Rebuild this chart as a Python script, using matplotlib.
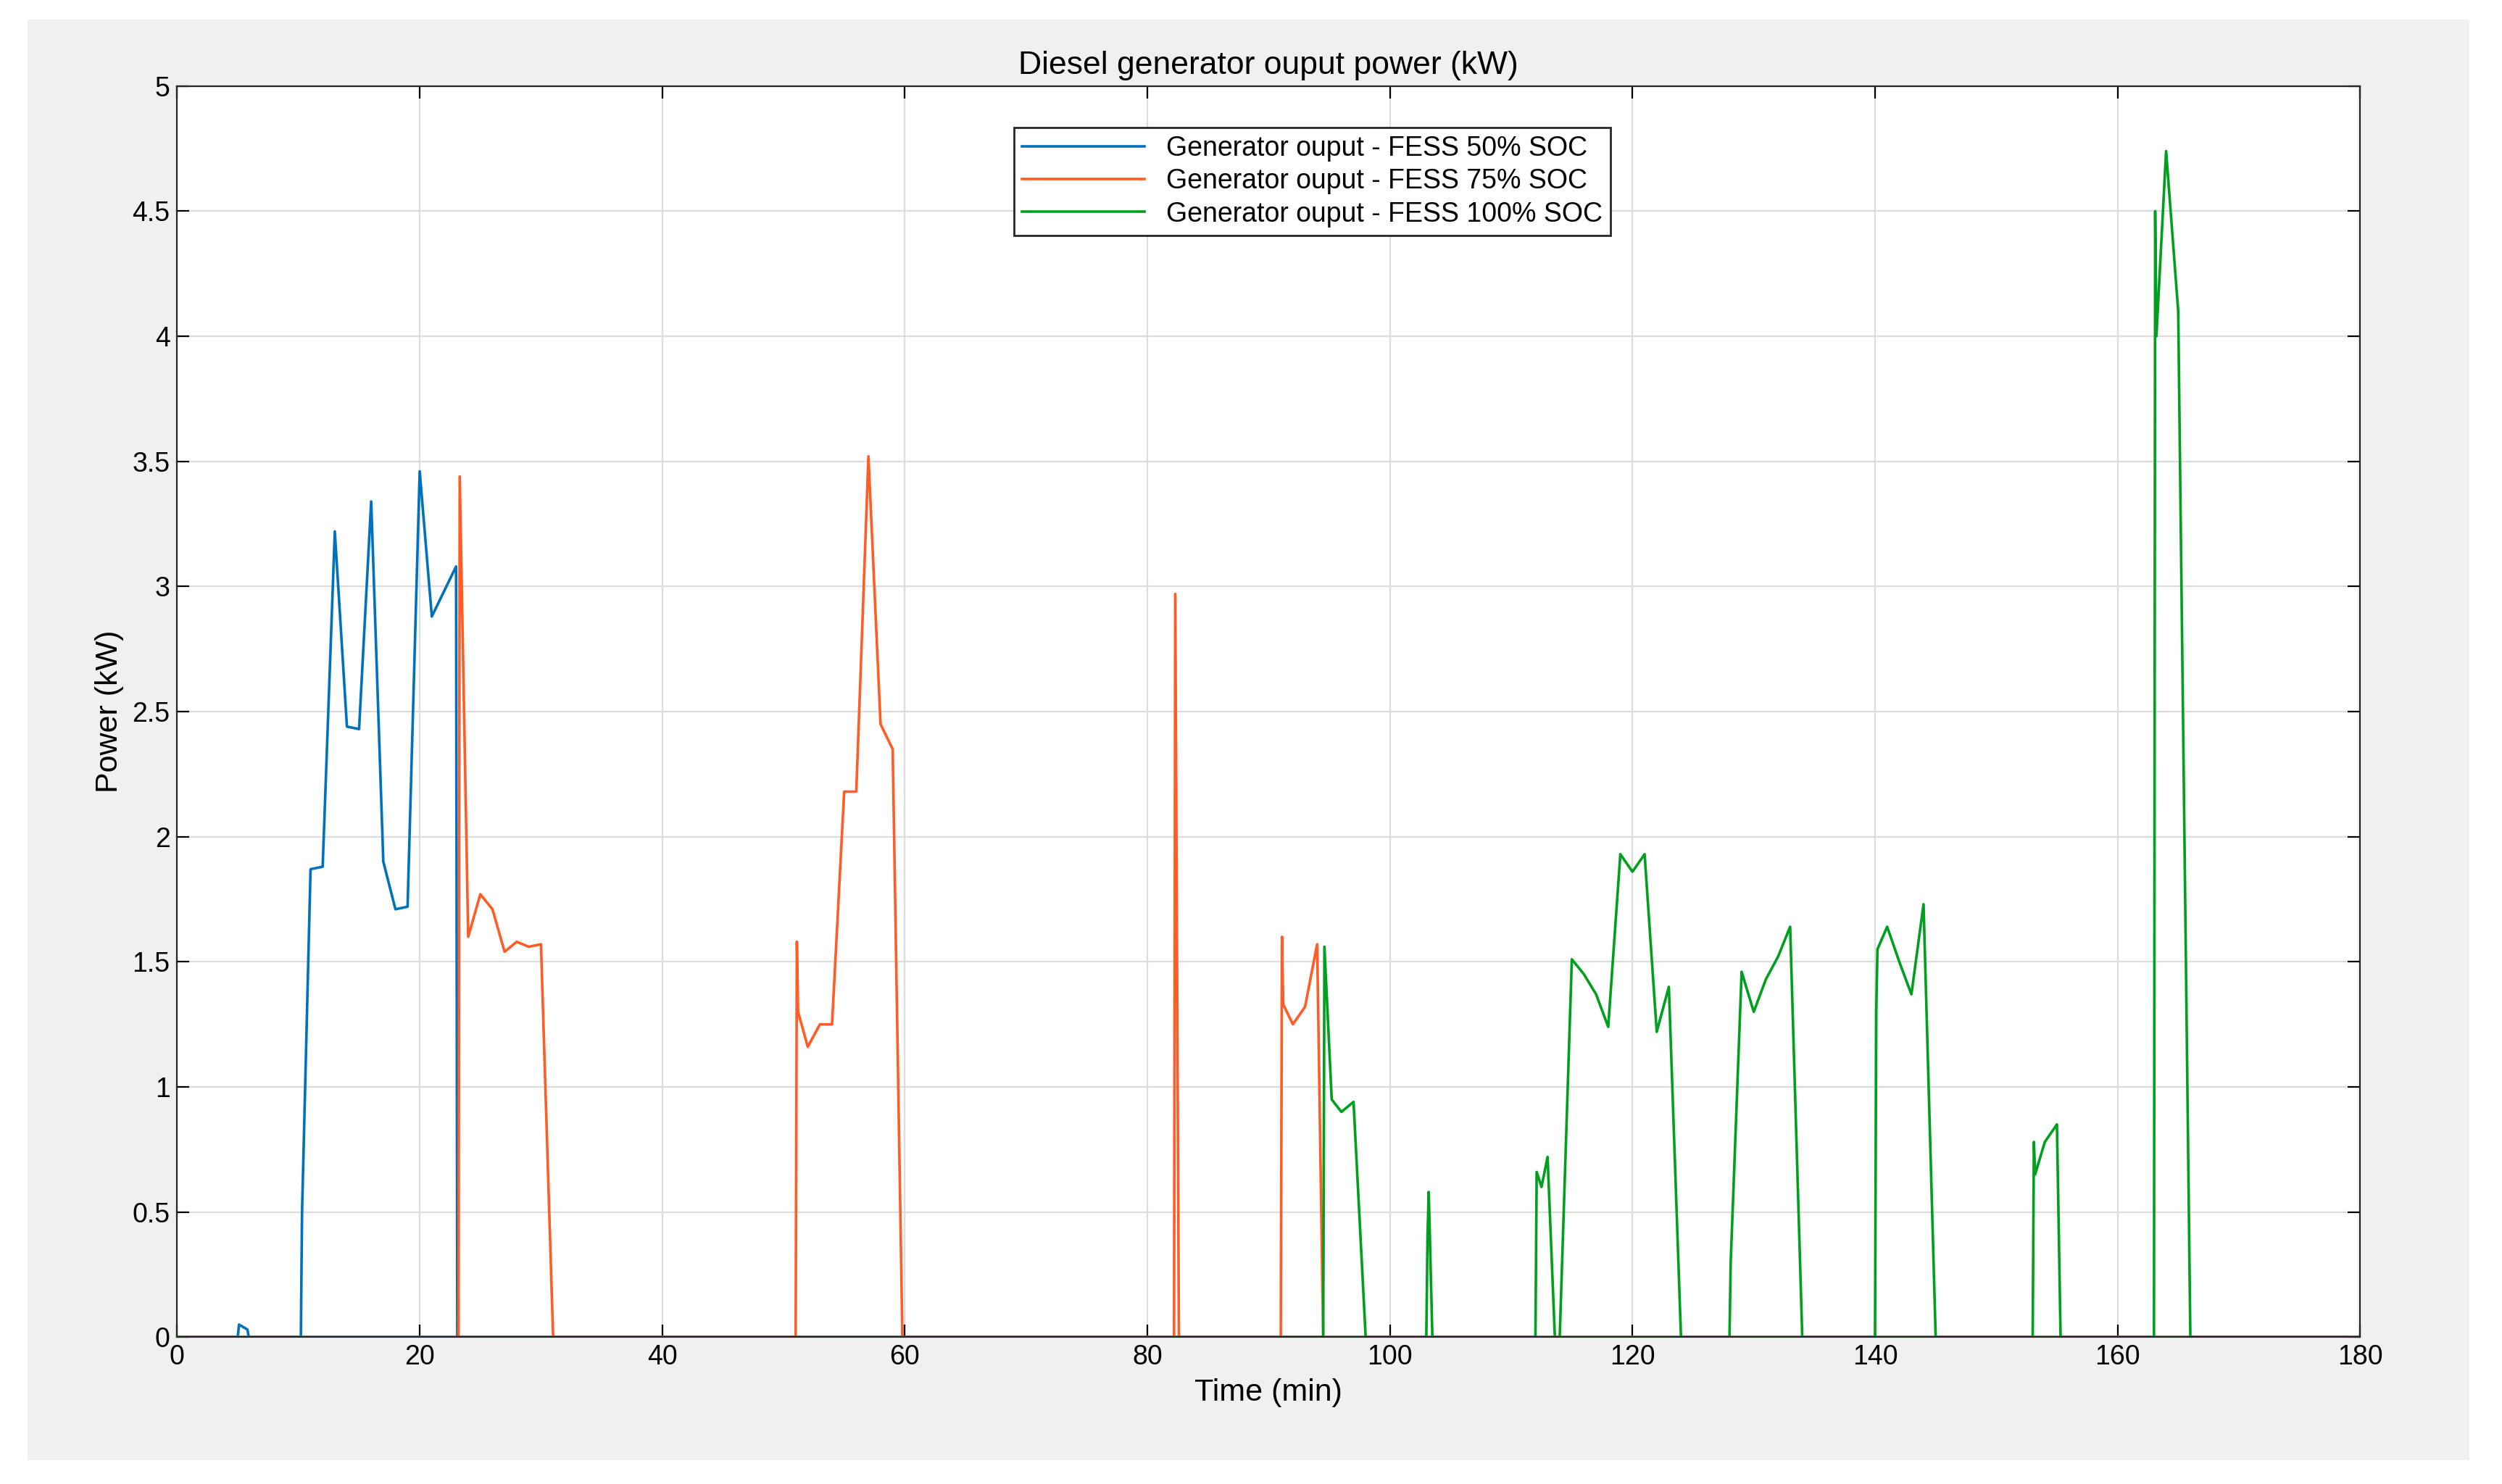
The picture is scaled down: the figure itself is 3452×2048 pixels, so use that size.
import matplotlib
matplotlib.use("Agg")
import matplotlib.pyplot as plt
from matplotlib.patches import Rectangle

blue_t = [0, 5, 5.1, 5.8, 5.9, 10.2, 10.3, 11, 12, 13, 14, 15, 16, 17, 18, 19, 20, 21, 23, 23.1, 180]
blue_p = [0, 0, 0.05, 0.03, 0, 0, 0.5, 1.87, 1.88, 3.22, 2.44, 2.43, 3.34, 1.9, 1.71, 1.72, 3.46, 2.88, 3.08, 0, 0]

orange_t = [0, 23.2, 23.3, 24, 25, 26, 27, 28, 29, 30, 31, 51.0, 51.1, 51.2, 52, 53, 54, 55, 56, 57, 58, 59, 59.8,
            82.2, 82.3, 82.6, 91.0, 91.1, 91.2, 92, 93, 94, 94.5, 180]
orange_p = [0, 0, 3.44, 1.6, 1.77, 1.71, 1.54, 1.58, 1.56, 1.57, 0, 0, 1.58, 1.3, 1.16, 1.25, 1.25, 2.18, 2.18, 3.52, 2.45, 2.35, 0,
            0, 2.97, 0, 0, 1.6, 1.33, 1.25, 1.32, 1.57, 0, 0]

green_t = [0, 94.5, 94.6, 95.2, 96, 97, 98, 103, 103.1, 103.2, 103.5, 112, 112.1, 112.5, 113, 113.6, 114, 115, 116, 117, 118,
           119, 120, 121, 122, 123, 124, 128, 128.1, 129, 130, 131, 132, 133, 134, 140, 140.1, 140.2, 141, 142, 143, 144, 145,
           153, 153.1, 153.2, 154, 155, 155.3, 163, 163.1, 163.2, 164, 165, 166, 180]
green_p = [0, 0, 1.56, 0.95, 0.9, 0.94, 0, 0, 0.4, 0.58, 0, 0, 0.66, 0.6, 0.72, 0, 0, 1.51, 1.45, 1.37, 1.24,
           1.93, 1.86, 1.93, 1.22, 1.4, 0, 0, 0.3, 1.46, 1.3, 1.43, 1.52, 1.64, 0, 0, 1.3, 1.55, 1.64, 1.5, 1.37, 1.73, 0,
           0, 0.78, 0.65, 0.78, 0.85, 0, 0, 4.5, 4.0, 4.74, 4.1, 0, 0]

labels = ["Generator ouput - FESS 50% SOC", "Generator ouput - FESS 75% SOC", "Generator ouput - FESS 100% SOC"]
colors = ["#0072BD", "#FF5C26", "#00A01E"]

plt.rcParams['font.family'] = ['Liberation Sans', 'DejaVu Sans']
fig = plt.figure(figsize=(17.26, 10.24), dpi=200, facecolor="white")
fig.patches.append(Rectangle((0.011, 0.016), 0.976, 0.971, transform=fig.transFigure,
                             facecolor="#f0f0f0", edgecolor="none", zorder=-1))
ax = fig.add_axes([0.0708, 0.099, 0.8725, 0.843])
for t, p, c, l in zip([blue_t, orange_t, green_t], [blue_p, orange_p, green_p], colors, labels):
    ax.plot(t, p, color=c, lw=1.3, label=l)
ax.set_xlim(0, 180)
ax.set_ylim(0, 5)
ax.set_xticks(range(0, 181, 20))
ax.set_yticks([0, 0.5, 1, 1.5, 2, 2.5, 3, 3.5, 4, 4.5, 5])
ax.set_yticklabels(["0", "0.5", "1", "1.5", "2", "2.5", "3", "3.5", "4", "4.5", "5"])
ax.grid(True, color="#dcdcdc", lw=0.8)
ax.tick_params(labelsize=13.5, direction="in", top=True, right=True, length=6)
for s in ax.spines.values():
    s.set_color("#262626")
ax.set_xlabel("Time (min)", fontsize=15.5)
ax.set_ylabel("Power (kW)", fontsize=15.5)
ax.set_title("Diesel generator ouput power (kW)", fontsize=16, pad=6)
leg = ax.legend(loc="upper center", bbox_to_anchor=(0.52, 0.978), fontsize=13.5, fancybox=False,
                framealpha=1, edgecolor="#262626", borderpad=0.3, labelspacing=0.25, handlelength=4.5)
fig.savefig("out.png", dpi=200, facecolor="white")
